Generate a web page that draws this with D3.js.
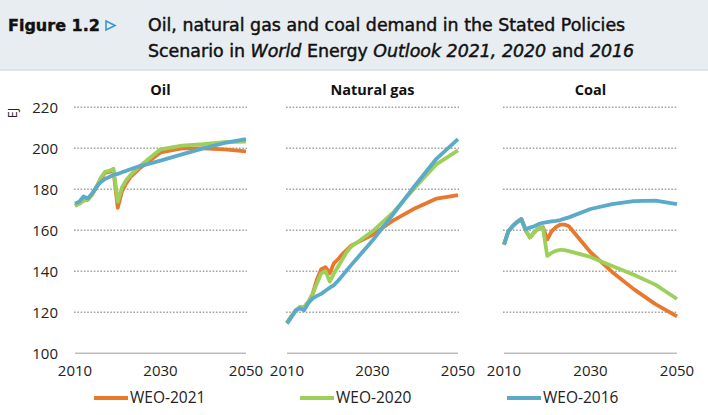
<!DOCTYPE html>
<html>
<head>
<meta charset="utf-8">
<script src="https://cdn.jsdelivr.net/npm/d3@7"></script>
<style>
body { margin: 0; background: #fff; }
</style>
</head>
<body>
<div id="chart"></div>
<script>
// data (EJ)
var years = [2010, 2011, 2012, 2013, 2014, 2015, 2016, 2017, 2018, 2019, 2020,
             2021, 2022, 2023, 2024, 2025, 2030, 2035, 2040, 2045, 2050];

var oil2021 = [172, 173, 174.5, 175, 177.5, 181, 185, 188, 188.5, 189, 171,
               179, 183, 186, 188, 190, 198, 200, 200, 199.5, 198.5];
var oil2020 = [172, 173, 174.5, 175, 177.5, 181, 185.5, 188.5, 189, 190, 174,
               181, 184.5, 187, 189, 191, 199.5, 201.3, 202, 203, 203.3];
var oil2016 = [173, 174, 176.5, 175.5, 178, 181, 183.5, 185, 186, 187, 187.5,
               188.3, 189, 189.8, 190.5, 191.2, 194, 197, 200, 202.6, 204.5];

var gas2021 = [115, 118, 120.5, 122.5, 122.5, 125, 129, 136, 141, 142, 139,
               144, 146, 148.5, 150.5, 152.5, 157.8, 165, 170.8, 175.5, 177.2];
var gas2020 = [115, 118, 120.5, 122.5, 122.5, 125, 129, 134, 139, 140, 135,
               139, 142.5, 146, 149.5, 152, 159.5, 169, 181, 192.3, 199];
var gas2016 = [114.5, 117.5, 121, 122, 121, 124.5, 126.8, 128, 129, 130.5, 132,
               133.3, 135.5, 138, 140.5, 143, 155, 168.3, 182, 195, 204.5];

var coal2021 = [153, 159.5, 162, 164, 165.5, 160, 156.5, 159, 161, 161.5, 155.5,
                159.5, 161.5, 162.8, 162.8, 162, 149.3, 139.7, 131.3, 124, 118];
var coal2020 = [153, 159.5, 162, 164, 165.5, 160, 156.5, 159, 161, 161, 147.5,
                149, 150, 150.5, 150.3, 149.8, 147, 142.6, 138.3, 133.5, 126.5];
var coal2016 = [153, 159.5, 162, 164, 165.5, 160.5, 161.3, 162, 163, 163.6, 164,
                164.3, 164.6, 165, 165.7, 166.3, 170.4, 172.8, 174.2, 174.5, 172.8];

var fuels = ["Oil", "Natural gas", "Coal"];
var seriesNames = ["WEO-2021", "WEO-2020", "WEO-2016"];
var yTicks = [100, 120, 140, 160, 180, 200, 220];
var xTicks = [2010, 2030, 2050];

var values = [
  [oil2021, oil2020, oil2016],
  [gas2021, gas2020, gas2016],
  [coal2021, coal2020, coal2016]
];

var colors = ["#e8782e", "#9dd05b", "#5aaac8"];
var tickFont = "'Open Sans', sans-serif";

var w = 708, h = 415;

var svg = d3.select("#chart")
  .append("svg")
  .attr("width", w)
  .attr("height", h);

// header band
svg.append("rect")
  .attr("x", 0).attr("y", 0)
  .attr("width", w).attr("height", 70)
  .style("fill", "#e8edf1");
svg.append("line")
  .attr("x1", 0).attr("x2", w)
  .attr("y1", 70).attr("y2", 70)
  .style("stroke", "#c9cfd4").style("stroke-width", 1);

svg.append("text")
  .attr("x", 8).attr("y", 31)
  .style("font-family", "'DejaVu Sans', sans-serif")
  .style("font-weight", "bold")
  .style("font-size", "16px")
  .style("fill", "#111")
  .style("stroke", "#111")
  .style("stroke-width", 0.4)
  .text("Figure 1.2");

svg.append("path")
  .attr("d", "M106,21 L115,25.5 L106,30 Z")
  .style("fill", "none")
  .style("stroke", "#3d95cf")
  .style("stroke-width", 1.6);

var title = svg.append("g")
  .style("font-family", "'DejaVu Sans', sans-serif")
  .style("font-size", "17.4px")
  .style("fill", "#111")
  .style("stroke", "#111")
  .style("stroke-width", 0.45);

title.append("text")
  .attr("x", 148).attr("y", 31)
  .text("Oil, natural gas and coal demand in the Stated Policies");

var line2 = title.append("text").attr("x", 148).attr("y", 57);
[["Scenario in ", false], ["World", true], [" Energy ", false],
 ["Outlook 2021, 2020", true], [" and ", false], ["2016", true]]
  .forEach(function(p) {
    line2.append("tspan")
      .style("font-style", p[1] ? "italic" : "normal")
      .text(p[0]);
  });

// panels
var panelX = [[75, 246], [287, 458], [504, 677]];

var y = d3.scaleLinear()
  .domain([100, 220])
  .range([353.3, 107.3]);

// unit label
svg.append("text")
  .attr("transform", "translate(17,113) rotate(-90)")
  .attr("text-anchor", "middle")
  .style("font-family", tickFont)
  .style("font-size", "12.5px")
  .style("fill", "#222")
  .text("EJ");

// y labels (first panel only)
svg.selectAll(".ylab")
  .data(yTicks)
  .enter()
  .append("text")
  .attr("class", "ylab")
  .attr("x", 58)
  .attr("y", function(d) { return y(d); })
  .attr("dy", "0.35em")
  .attr("text-anchor", "end")
  .style("font-family", tickFont)
  .style("font-size", "15px")
  .style("fill", "#222")
  .text(function(d) { return d; });

fuels.forEach(function(fuel, i) {
  var x = d3.scaleLinear()
    .domain([2010, 2050])
    .range(panelX[i]);

  var g = svg.append("g");

  // dotted gridlines
  g.selectAll(".grid")
    .data(yTicks.slice(1))
    .enter()
    .append("line")
    .attr("x1", panelX[i][0] - 1)
    .attr("x2", panelX[i][1] + 1)
    .attr("y1", function(d) { return y(d); })
    .attr("y2", function(d) { return y(d); })
    .style("stroke", "#a3a3a3")
    .style("stroke-width", 1.4)
    .style("stroke-dasharray", "1.6,1.7");

  // base axis line
  g.append("line")
    .attr("x1", panelX[i][0])
    .attr("x2", panelX[i][1])
    .attr("y1", y(100)).attr("y2", y(100))
    .style("stroke", "#bdbdbd")
    .style("stroke-width", 1.5);

  // x labels
  g.selectAll(".xlab")
    .data(xTicks)
    .enter()
    .append("text")
    .attr("x", function(d) { return x(d); })
    .attr("y", 376)
    .attr("text-anchor", "middle")
    .style("font-family", tickFont)
    .style("font-size", "15px")
    .style("fill", "#222")
    .text(function(d) { return d; });

  // panel title
  g.append("text")
    .attr("x", (panelX[i][0] + panelX[i][1]) / 2)
    .attr("y", 95)
    .attr("text-anchor", "middle")
    .style("font-family", tickFont)
    .style("font-weight", "bold")
    .style("font-size", "14.5px")
    .style("fill", "#111")
    .text(fuel);

  var line = d3.line()
    .x(function(d) { return x(d[0]); })
    .y(function(d) { return y(d[1]); });

  values[i].forEach(function(vals, s) {
    g.append("path")
      .datum(d3.zip(years, vals))
      .attr("d", line)
      .style("fill", "none")
      .style("stroke", colors[s])
      .style("stroke-width", 3.8)
      .style("stroke-linejoin", "round");
  });
});

// legend
var legendX = [94, 300, 507];
var legend = svg.selectAll(".leg")
  .data(seriesNames)
  .enter()
  .append("g")
  .attr("transform", function(d, i) { return "translate(" + legendX[i] + ",398)"; });

legend.append("line")
  .attr("x1", 0).attr("x2", 34)
  .style("stroke", function(d, i) { return colors[i]; })
  .style("stroke-width", 4);

legend.append("text")
  .attr("x", 36)
  .attr("dy", "0.35em")
  .style("font-family", tickFont)
  .style("font-size", "15.5px")
  .style("fill", "#222")
  .text(function(d) { return d; });
</script>
</body>
</html>
